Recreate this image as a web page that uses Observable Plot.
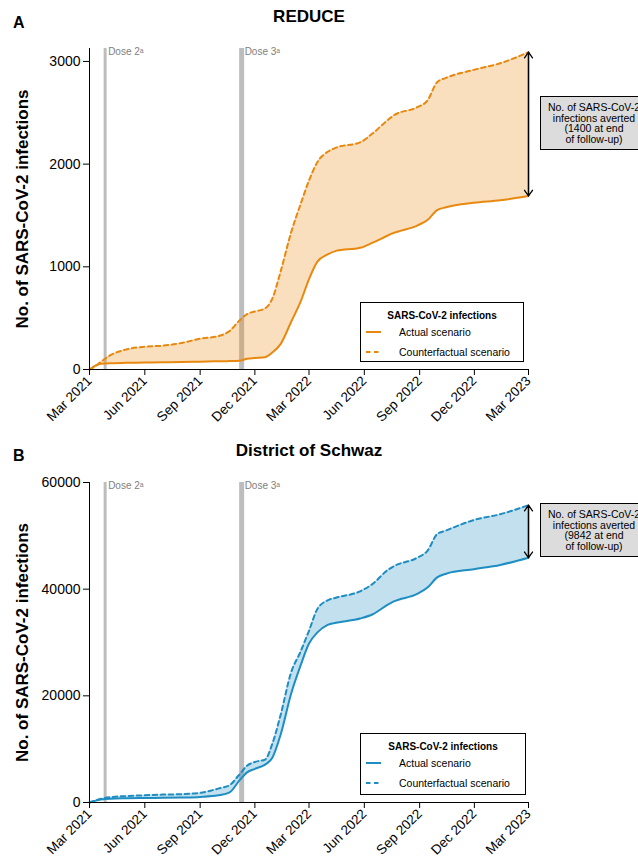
<!DOCTYPE html>
<html>
<head>
<meta charset="utf-8">
<script src="https://cdn.jsdelivr.net/npm/d3@7"></script>
<script src="https://cdn.jsdelivr.net/npm/@observablehq/plot@0.6"></script>
<style>
  html, body { margin: 0; padding: 0; background: #fff; overflow: hidden; }
  #wrap { position: relative; width: 638px; height: 862px; overflow: hidden;
          font-family: "Liberation Sans", Arial, Helvetica, sans-serif; color: #000; }
  .plotbox { position: absolute; left: 0; }
  .ttl { position: absolute; font-weight: bold; font-size: 17px; white-space: nowrap; transform: translate(-50%, -50%); }
  .tag { position: absolute; font-weight: bold; font-size: 16px; transform: translateY(-50%); }
  .note { position: absolute; box-sizing: border-box; background: #dcdcdc; border: 1.3px solid #000;
          font-size: 10.5px; line-height: 10.5px; text-align: center; padding-top: 5px; white-space: nowrap; }
  .legend { position: absolute; box-sizing: border-box; background: #fff; border: 1.3px solid #000; }
  .legend .lt { position: absolute; left: 0; right: 0; text-align: center; font-weight: bold; font-size: 10px; transform: translateY(-50%); }
  .legend .li { position: absolute; font-size: 10.5px; white-space: nowrap; transform: translateY(-50%); }
  .legend svg { position: absolute; overflow: visible; }
</style>
</head>
<body>
<div id="wrap"></div>
<script>
// ---------------- data ----------------
const dates = [
  "2021-03-01","2021-03-10","2021-03-20","2021-04-05","2021-05-01","2021-06-01","2021-07-01",
  "2021-08-01","2021-09-01","2021-10-01","2021-10-20","2021-11-05","2021-11-18","2021-12-01",
  "2021-12-18","2021-12-30","2022-01-13","2022-01-30","2022-02-15","2022-03-01","2022-03-15",
  "2022-04-01","2022-04-15","2022-05-25","2022-06-15","2022-07-10","2022-07-20","2022-08-28",
  "2022-09-14","2022-09-30","2022-10-15","2022-11-30","2023-01-13","2023-03-01"
];
const reduceActual = [0, 35, 55, 62, 65, 67, 70, 72, 76, 80, 82, 85, 105, 112, 120, 165, 250, 460, 660, 880,
  1050, 1120, 1155, 1185, 1235, 1305, 1330, 1402, 1455, 1552, 1580, 1623, 1648, 1690];
const reduceCounterfactual = [0, 30, 75, 140, 195, 222, 232, 258, 300, 325, 375, 475, 540, 565, 595, 690, 958,
  1330, 1610, 1840, 2020, 2120, 2160, 2212, 2300, 2430, 2475, 2554, 2620, 2797, 2840, 2918, 2982, 3090];
const schwazActual = [0, 300, 550, 720, 790, 840, 880, 940, 1050, 1350, 1900, 4100, 5650, 6320, 7100, 8400,
  12800, 20300, 25700, 29800, 31900, 33300, 33700, 34500, 35300, 37100, 37700, 39100, 40300, 42200, 42900,
  43750, 44550, 45900];
const schwazCounterfactual = [0, 350, 700, 1000, 1200, 1360, 1480, 1570, 1800, 2600, 3250, 5200, 6900, 7600,
  8050, 11000, 16500, 24300, 28300, 32200, 36300, 37900, 38400, 39600, 41000, 43600, 44300, 45900, 47200,
  50300, 51000, 52950, 54050, 55750];

const doseDates = ["2021-03-27", "2021-11-09"];
const doseLabels = ["Dose 2\u1D43", "Dose 3\u1D43"];

const xTicks = ["2021-03-01","2021-06-01","2021-09-01","2021-12-01","2022-03-01",
                "2022-06-01","2022-09-01","2022-12-01","2023-03-01"];
const reduceYTicks = [0, 1000, 2000, 3000];
const schwazYTicks = [0, 20000, 40000, 60000];

const panelTitles = ["REDUCE", "District of Schwaz"];
const panelTags = ["A", "B"];
const yTitle = "No. of SARS-CoV-2 infections";
const legendTitle = "SARS-CoV-2 infections";
const legendItems = ["Actual scenario", "Counterfactual scenario"];
const avertedReduce = 1400;
const avertedSchwaz = 9842;

// ---------------- drawing ----------------
const FONT = '"Liberation Sans", Arial, Helvetica, sans-serif';
const parse = d3.utcParse("%Y-%m-%d");
const fmt = d3.utcFormat("%b %Y");
const wrap = document.getElementById("wrap");

function panel({act, cf, yMax, yTicks, color, height, marginTop, marginBottom}) {
  const data = dates.map((d, i) => ({date: parse(d), actual: act[i], cf: cf[i]}));
  const last = data[data.length - 1];
  const doses = doseDates.map((d, i) => ({date: parse(d), label: doseLabels[i]}));
  const x0 = parse(xTicks[0]);
  const curve = "monotone-x";
  return Plot.plot({
    width: 638, height, marginLeft: 89, marginRight: 110, marginTop, marginBottom,
    style: {fontFamily: FONT, color: "#000", background: "transparent", overflow: "visible"},
    x: {type: "utc", domain: [x0, parse(xTicks[xTicks.length - 1])]},
    y: {domain: [0, yMax]},
    marks: [
      Plot.ruleX([doses[0]], {x: "date", stroke: "#bdbdbd", strokeWidth: 3}),
      Plot.ruleX([doses[1]], {x: "date", stroke: "#bdbdbd", strokeWidth: 5}),
      Plot.areaY(data, {x: "date", y1: "actual", y2: "cf", fill: color, fillOpacity: 0.27, curve}),
      Plot.lineY(data, {x: "date", y: "actual", stroke: color, strokeWidth: 2, curve}),
      Plot.lineY(data, {x: "date", y: "cf", stroke: color, strokeWidth: 2, strokeDasharray: "4.5,3.5", curve}),
      Plot.text(doses, {x: "date", text: "label", frameAnchor: "top", textAnchor: "start", lineAnchor: "top",
        dx: 3, dy: -1, fontSize: 10, fill: "#808080"}),
      Plot.ruleX([x0], {stroke: "#000", strokeWidth: 1}),
      Plot.ruleY([0], {stroke: "#000", strokeWidth: 1}),
      Plot.axisY({ticks: yTicks, tickSize: 6, tickPadding: 3, fontSize: 14, label: null, tickFormat: d => String(d)}),
      Plot.axisX({ticks: xTicks.map(parse), tickFormat: fmt, tickRotate: -45, tickSize: 6, tickPadding: 3,
        fontSize: 13.5, label: null}),
      Plot.arrow([last], {x1: "date", x2: "date", y1: "actual", y2: "cf", stroke: "#000", strokeWidth: 1.3,
        headLength: 8, headAngle: 70}),
      Plot.arrow([last], {x1: "date", x2: "date", y1: "cf", y2: "actual", stroke: "#000", strokeWidth: 1.3,
        headLength: 8, headAngle: 70}),
      Plot.text([yTitle], {text: d => d, frameAnchor: "left", textAnchor: "middle", lineAnchor: "middle",
        dx: -67, rotate: -90, fontSize: 17, fontWeight: "bold", fill: "#000"})
    ]
  });
}

function addPlot(svg, top) {
  const div = document.createElement("div");
  div.className = "plotbox";
  div.style.top = top + "px";
  div.appendChild(svg);
  wrap.appendChild(div);
}

function addTitle(text, cx, cy) {
  const d = document.createElement("div");
  d.className = "ttl"; d.textContent = text;
  d.style.left = cx + "px"; d.style.top = cy + "px";
  wrap.appendChild(d);
}
function addTag(text, lx, cy) {
  const d = document.createElement("div");
  d.className = "tag"; d.textContent = text;
  d.style.left = lx + "px"; d.style.top = cy + "px";
  wrap.appendChild(d);
}
function addNote(n, left, top) {
  const d = document.createElement("div");
  d.className = "note";
  d.style.left = left + "px"; d.style.top = top + "px";
  d.style.width = "108px"; d.style.height = "54px";
  d.innerHTML = "No. of SARS-CoV-2<br>infections averted<br>(" + n + " at end<br>of follow-up)";
  wrap.appendChild(d);
}
function addLegend(color, left, top, w, h) {
  const d = document.createElement("div");
  d.className = "legend";
  d.style.left = left + "px"; d.style.top = top + "px";
  d.style.width = w + "px"; d.style.height = h + "px";
  const t = document.createElement("div");
  t.className = "lt"; t.textContent = legendTitle; t.style.top = "12px";
  d.appendChild(t);
  const rowsY = [29, 49];
  legendItems.forEach((lab, i) => {
    const ns = "http://www.w3.org/2000/svg";
    const s = document.createElementNS(ns, "svg");
    s.setAttribute("width", "16"); s.setAttribute("height", "4");
    s.style.left = "5px"; s.style.top = (rowsY[i] - 2) + "px";
    const l = document.createElementNS(ns, "line");
    l.setAttribute("x1", "0"); l.setAttribute("x2", "15"); l.setAttribute("y1", "2"); l.setAttribute("y2", "2");
    l.setAttribute("stroke", color); l.setAttribute("stroke-width", "2");
    if (i === 1) l.setAttribute("stroke-dasharray", "4.5,3.5");
    s.appendChild(l);
    d.appendChild(s);
    const tx = document.createElement("div");
    tx.className = "li"; tx.textContent = lab;
    tx.style.left = "38px"; tx.style.top = rowsY[i] + "px";
    d.appendChild(tx);
  });
  wrap.appendChild(d);
}

const ORANGE = "#E8880E";
const BLUE = "#1E8DC2";

addPlot(panel({act: reduceActual, cf: reduceCounterfactual, yMax: 3126, yTicks: reduceYTicks,
  color: ORANGE, height: 430, marginTop: 48, marginBottom: 61}), 0);
addPlot(panel({act: schwazActual, cf: schwazCounterfactual, yMax: 60000, yTicks: schwazYTicks,
  color: BLUE, height: 432, marginTop: 52, marginBottom: 60}), 430);

addTitle(panelTitles[0], 309, 17);
addTag(panelTags[0], 13, 23);
addTitle(panelTitles[1], 309, 451);
addTag(panelTags[1], 13, 456);

addNote(avertedReduce, 540, 96);
addNote(avertedSchwaz, 540, 503);

addLegend(ORANGE, 360, 302, 164, 60);
addLegend(BLUE, 360, 733, 166, 62);
</script>
</body>
</html>
